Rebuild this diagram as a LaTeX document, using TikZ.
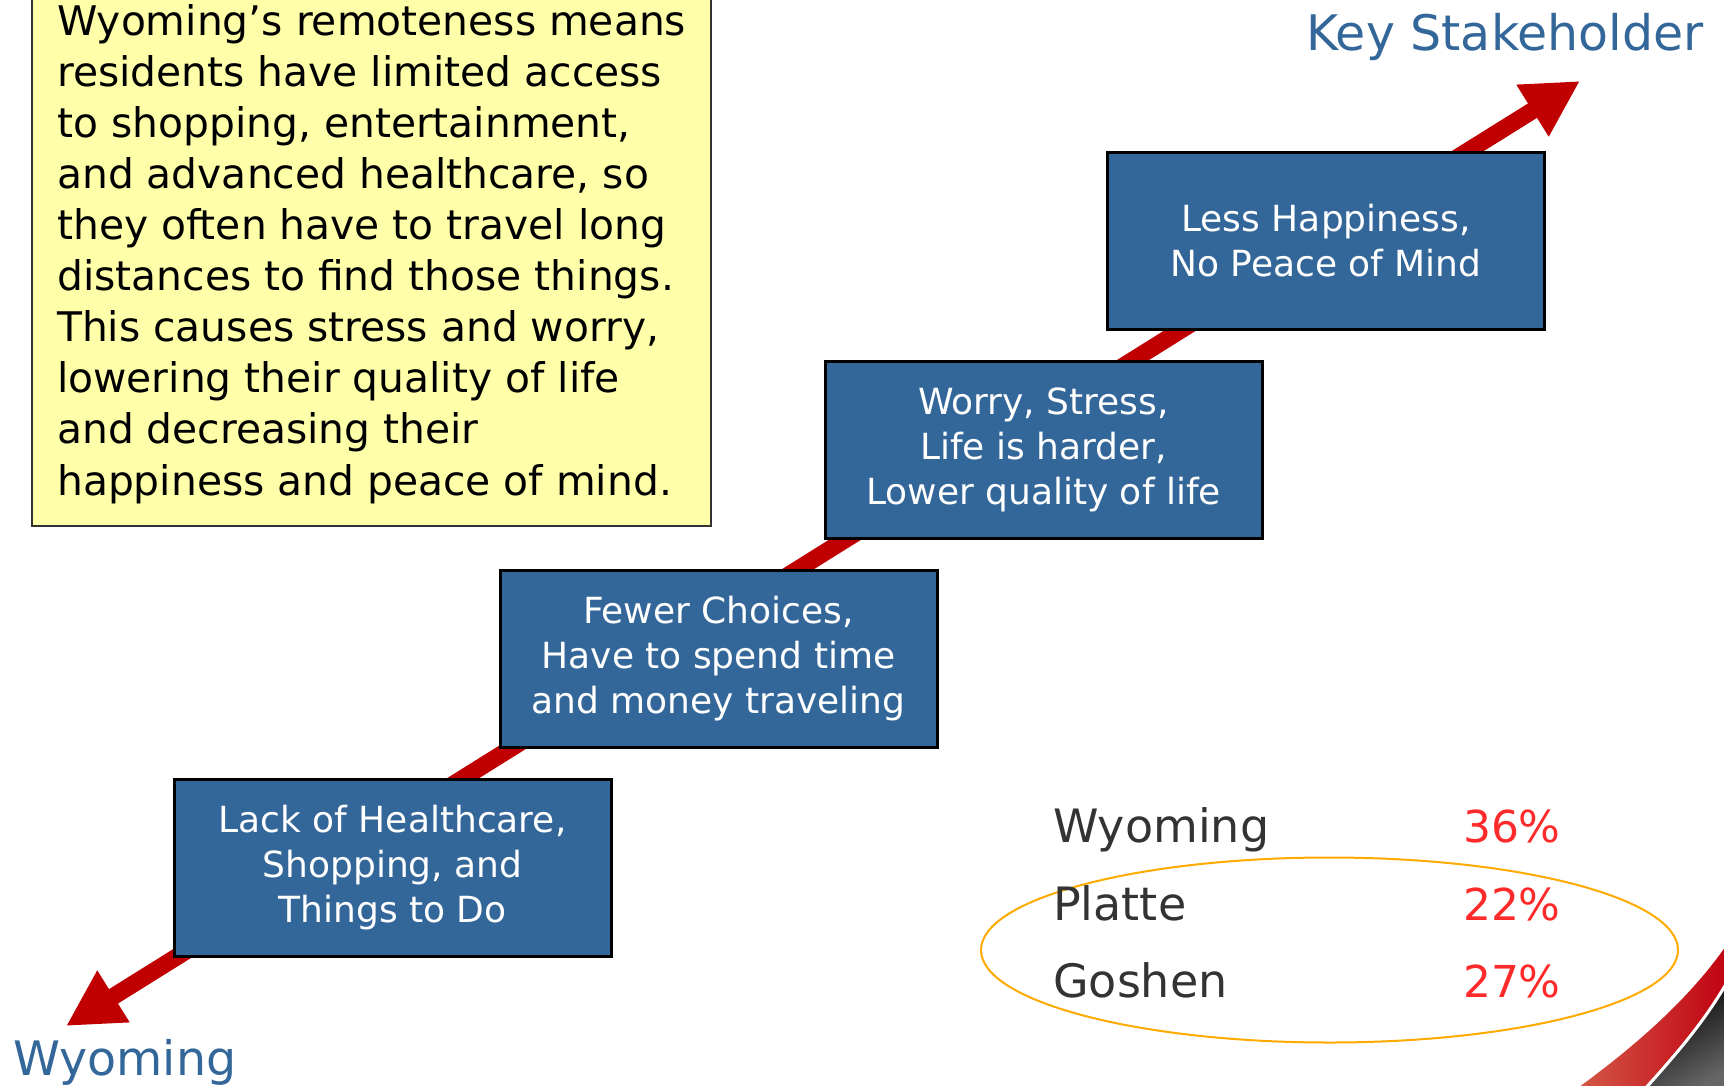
\documentclass[tikz,border=0pt]{standalone}
\usepackage{fontspec}
\setmainfont{DejaVu Sans}
\usetikzlibrary{arrows.meta}
\definecolor{boxblue}{HTML}{336699}
\definecolor{arrowred}{HTML}{C00000}
\definecolor{noteyellow}{HTML}{FFFFAA}
\definecolor{titleblue}{HTML}{336699}
\definecolor{stattext}{HTML}{333333}
\definecolor{statred}{HTML}{FF2A2A}
\definecolor{ringorange}{HTML}{FFAA00}
\definecolor{swooshdark}{HTML}{C00010}
\definecolor{swooshlight}{HTML}{D45A48}
\begin{document}
\begin{tikzpicture}[x=1pt,y=-1pt,
  stepbox/.style={draw=black, line width=3pt, fill=boxblue, minimum width=437pt,
    minimum height=177pt, text=white, align=center,
    font=\fontsize{36}{45}\selectfont, inner sep=0pt},
  notebox/.style={draw=black!80, line width=2pt, fill=noteyellow},
  notetext/.style={anchor=base west, align=left, inner sep=0pt,
    font=\fontsize{40.8}{51.1}\selectfont},
  titletext/.style={text=titleblue, inner sep=0pt, font=\fontsize{49}{60}\selectfont},
  statname/.style={text=stattext, anchor=base west, inner sep=0pt, font=\fontsize{46}{50}\selectfont},
  statval/.style={text=statred, anchor=base east, inner sep=0pt, font=\fontsize{44}{50}\selectfont},
  bigarrow/.style={line width=17pt, draw=arrowred,
    {Triangle[length=56pt,width=57pt]}-{Triangle[length=56pt,width=57pt]}}
]
\useasboundingbox (0,0) rectangle (1724,1085);
\clip (0,0) rectangle (1724,1085);

% corner swoosh
\shade[top color=black, bottom color=black!60, shading angle=30]
  (1724,985) .. controls (1705,1020) and (1680,1050) .. (1645,1090) -- (1730,1090) -- cycle;
\shade[left color=swooshlight, right color=swooshdark]
  (1575,1090) .. controls (1630,1050) and (1690,1000) .. (1730,940)
  -- (1730,982) .. controls (1705,1018) and (1680,1048) .. (1642,1090) -- cycle;
\draw[white, line width=3pt] (1726,984) .. controls (1705,1020) and (1680,1050) .. (1644,1090);

% note
\node[notebox, minimum width=679pt, minimum height=540pt, anchor=south west] (note) at (31,527) {};
\node[notetext] (notetxt) at (57,495) {Wyoming’s remoteness means\\
residents have limited access\\
to shopping, entertainment,\\
and advanced healthcare, so\\
they often have to travel long\\
distances to find those things.\\
This causes stress and worry,\\
lowering their quality of life\\
and decreasing their\\
happiness and peace of mind.};

% arrow
\coordinate (tailend) at (66,1026);
\coordinate (headend) at (1580,81);
\draw[bigarrow] (tailend) -- (headend);

% steps
\node[stepbox] (s1) at (392.5,867.5) {Lack of Healthcare,\\Shopping, and\\Things to Do};
\node[stepbox] (s2) at (718.5,658.5) {Fewer Choices,\\Have to spend time\\and money traveling};
\node[stepbox] (s3) at (1043.5,449.5) {Worry, Stress,\\Life is harder,\\Lower quality of life};
\node[stepbox] (s4) at (1326,240.5) {Less Happiness,\\No Peace of Mind};

% titles
\node[titletext, anchor=base east] (top) at (1704,50) {Key Stakeholder};
\node[titletext, anchor=base west, font=\fontsize{47.5}{60}\selectfont] (bottom) at (13,1075) {Wyoming};

% stats
\draw[ringorange, line width=2pt] (1329.5,950) ellipse [x radius=348.5, y radius=92.5];
\node[statname] (n1) at (1053,842) {Wyoming};
\node[statname] (n2) at (1053,920) {Platte};
\node[statname] (n3) at (1053,997) {Goshen};
\node[statval] (v1) at (1561,842) {36\%};
\node[statval] (v2) at (1561,920) {22\%};
\node[statval] (v3) at (1561,997) {27\%};
\end{tikzpicture}
\end{document}
